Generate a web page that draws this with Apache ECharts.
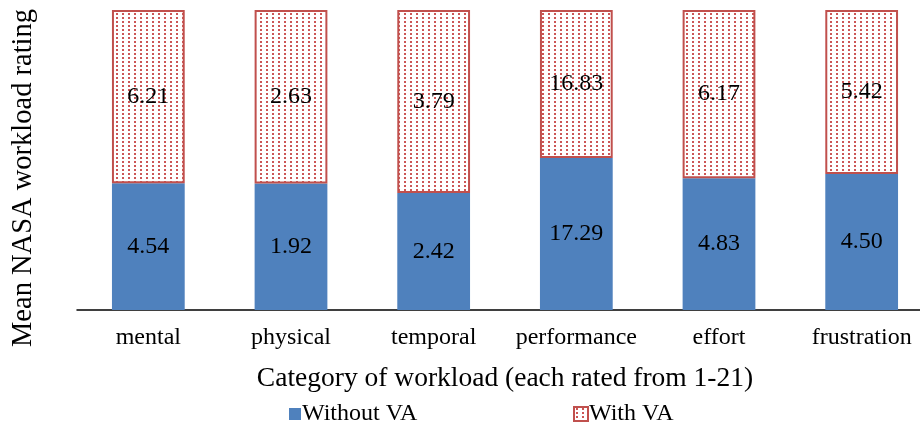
<!DOCTYPE html>
<html>
<head>
<meta charset="utf-8">
<script src="https://cdn.jsdelivr.net/npm/echarts@6/dist/echarts.min.js"></script>
<style>
  html, body { margin: 0; padding: 0; background: #fff; overflow: hidden; }
  #chart { width: 933px; height: 425px; }
</style>
</head>
<body>
<div id="chart"></div>
<script>
// Workload categories and mean NASA-TLX ratings
const categories = ['mental', 'physical', 'temporal', 'performance', 'effort', 'frustration'];
const withoutVA = [4.54, 1.92, 2.42, 17.29, 4.83, 4.50];
const withVA = [6.21, 2.63, 3.79, 16.83, 6.17, 5.42];

// Share of each category's total, so every column fills the full height
const total = categories.map((_, i) => withoutVA[i] + withVA[i]);
const shareWithout = withoutVA.map((v, i) => v / total[i] * 100);
const shareWith = withVA.map((v, i) => v / total[i] * 100);

// Small red dot fill for the "With VA" segments
function dotPattern() {
  const c = document.createElement('canvas');
  c.width = 6; c.height = 4;
  const ctx = c.getContext('2d');
  ctx.fillStyle = '#ffffff';
  ctx.fillRect(0, 0, 6, 4);
  ctx.fillStyle = '#cc5656';
  ctx.fillRect(2, 1, 2, 2);
  return c;
}

const font = "'Liberation Serif', 'Times New Roman', serif";
const chart = echarts.init(document.getElementById('chart'), null, { renderer: 'canvas' });

chart.setOption({
  animation: false,
  grid: { left: 77, top: 10, right: 0, height: 300, containLabel: false, outerBoundsMode: 'none' },
  graphic: [
    {
      type: 'text',
      x: 24, y: 178,
      rotation: Math.PI / 2,
      style: {
        text: 'Mean NASA workload rating',
        font: "28.5px 'Liberation Serif', serif",
        fill: '#000',
        align: 'center',
        verticalAlign: 'middle'
      }
    }
  ],
  legend: [
    {
      left: 284, top: 397, itemWidth: 12, itemHeight: 12, itemGap: 0,
      textStyle: { fontFamily: font, fontSize: 24, color: '#000', padding: [0, 0, 0, -4] },
      data: [{ name: 'Without VA', icon: 'rect' }]
    },
    {
      left: 568, top: 397, itemWidth: 14, itemHeight: 14, itemGap: 0,
      textStyle: { fontFamily: font, fontSize: 24, color: '#000', padding: [0, 0, 0, -4] },
      data: [{ name: 'With VA', icon: 'rect' }]
    }
  ],
  xAxis: {
    type: 'category',
    data: categories,
    name: 'Category of workload (each rated from 1-21)',
    nameLocation: 'middle',
    nameGap: 55,
    nameTextStyle: { fontFamily: font, fontSize: 27.5, color: '#000' },
    axisLine: { lineStyle: { color: '#000', width: 1.5 } },
    axisTick: { show: false },
    axisLabel: { fontFamily: font, fontSize: 24, color: '#000', margin: 16, interval: 0 }
  },
  yAxis: {
    type: 'value',
    min: 0, max: 100,
    axisLine: { show: false },
    axisTick: { show: false },
    axisLabel: { show: false },
    splitLine: { show: false }
  },
  series: [
    {
      name: 'Without VA',
      type: 'bar',
      stack: 'total',
      barWidth: '51%',
      data: shareWithout,
      itemStyle: { color: '#4f81bd' },
      label: {
        show: true, position: 'inside',
        fontFamily: font, fontSize: 24, color: '#000',
        formatter: p => withoutVA[p.dataIndex].toFixed(2)
      }
    },
    {
      name: 'With VA',
      type: 'bar',
      stack: 'total',
      data: shareWith,
      itemStyle: {
        color: { image: dotPattern(), repeat: 'repeat' },
        borderColor: '#c0504d',
        borderWidth: 2
      },
      label: {
        show: true, position: 'inside',
        fontFamily: font, fontSize: 24, color: '#000',
        formatter: p => withVA[p.dataIndex].toFixed(2)
      }
    }
  ]
});
</script>
</body>
</html>
